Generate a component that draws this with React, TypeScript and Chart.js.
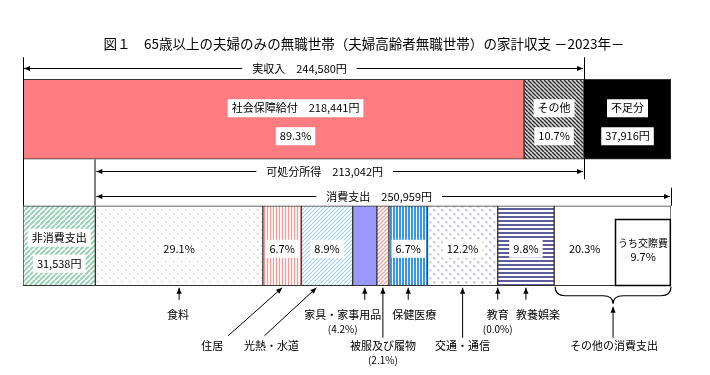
import React, { useEffect, useRef } from 'react';
import { Chart, registerables } from 'chart.js';

Chart.register(...registerables);

// ---------------- data ----------------
const TITLE = '図１　65歳以上の夫婦のみの無職世帯（夫婦高齢者無職世帯）の家計収支 －2023年－';
const rowLabels = ['収入', '支出'];

const incomeLabels = ['社会保障給付', 'その他', '不足分'];
const incomeValues = [218441, 26139, 37916]; // 円
const incomePct = [89.3, 10.7];

const actualIncome = 244580; // 実収入
const disposableIncome = 213042; // 可処分所得
const nonConsumption = 31538; // 非消費支出
const consumptionTotal = 250959; // 消費支出

const consumptionLabels = [
  '食料', '住居', '光熱・水道', '家具・家事用品', '被服及び履物',
  '保健医療', '交通・通信', '教育', '教養娯楽', 'その他の消費支出',
];
const consumptionPct = [29.1, 6.7, 8.9, 4.2, 2.1, 6.7, 12.2, 0.0, 9.8, 20.3];
const socialExpensePct = 9.7; // うち交際費

// ---------------- styles ----------------
const FONT = '"Noto Sans CJK JP", "Noto Sans", sans-serif';
const BAR = 80;

function mkPattern(size: number, bg: string, draw: (g: CanvasRenderingContext2D, s: number) => void) {
  const c = document.createElement('canvas');
  c.width = size;
  c.height = size;
  const g = c.getContext('2d')!;
  g.fillStyle = bg;
  g.fillRect(0, 0, size, size);
  draw(g, size);
  return g.createPattern(c, 'repeat')!;
}
function diag(color: string, lw: number, up: boolean) {
  return (g: CanvasRenderingContext2D, s: number) => {
    g.strokeStyle = color;
    g.lineWidth = lw;
    g.beginPath();
    for (let i = -s; i <= s; i += s) {
      if (up) {
        g.moveTo(i, s);
        g.lineTo(i + s, 0);
      } else {
        g.moveTo(i, 0);
        g.lineTo(i + s, s);
      }
    }
    g.stroke();
  };
}
function dots(color: string, d: number) {
  return (g: CanvasRenderingContext2D, s: number) => {
    g.fillStyle = color;
    g.fillRect(1, 1, d, d);
    g.fillRect(s / 2 + 1, s / 2 + 1, d, d);
  };
}
function vstripe(color: string, w: number) {
  return (g: CanvasRenderingContext2D) => {
    g.fillStyle = color;
    g.fillRect(0, 0, w, 100);
  };
}
function hstripe(color: string, w: number) {
  return (g: CanvasRenderingContext2D) => {
    g.fillStyle = color;
    g.fillRect(0, 0, 100, w);
  };
}

function drawArrow(ctx: CanvasRenderingContext2D, x1: number, y1: number, x2: number, y2: number) {
  ctx.beginPath();
  ctx.moveTo(x1, y1);
  ctx.lineTo(x2, y2);
  ctx.stroke();
  const a = Math.atan2(y2 - y1, x2 - x1);
  const L = 6, W = 2.6;
  ctx.beginPath();
  ctx.moveTo(x2, y2);
  ctx.lineTo(x2 - L * Math.cos(a) + W * Math.sin(a), y2 - L * Math.sin(a) - W * Math.cos(a));
  ctx.lineTo(x2 - L * Math.cos(a) - W * Math.sin(a), y2 - L * Math.sin(a) + W * Math.cos(a));
  ctx.closePath();
  ctx.fill();
}

function text(ctx: CanvasRenderingContext2D, s: string, x: number, y: number, box = false, size = 11) {
  ctx.font = `${size}px ${FONT}`;
  ctx.textAlign = 'center';
  ctx.textBaseline = 'middle';
  if (box) {
    const w = ctx.measureText(s).width;
    ctx.fillStyle = '#fff';
    ctx.fillRect(x - w / 2 - 4, y - 9, w + 8, 18);
  }
  ctx.fillStyle = '#000';
  ctx.fillText(s, x, y);
}

function fmt(n: number) {
  return n.toLocaleString('en-US');
}

export default function App() {
  const ref = useRef<HTMLCanvasElement>(null);

  useEffect(() => {
    const canvas = ref.current!;
    const consumptionValues = consumptionPct.map((p) => (p / 100) * consumptionTotal);
    const total = nonConsumption + consumptionTotal;

    const fills = {
      social: '#FF7C80',
      other: mkPattern(4, '#d8d8d8', diag('#303030', 1.4, false)),
      short: '#000000',
      nonCons: mkPattern(5, '#ffffff', diag('#99d1b4', 2, true)),
      cons: [
        mkPattern(8, '#ffffff', dots('#c4cfe4', 1.5)),
        mkPattern(3, '#fff4f4', vstripe('#f29a9a', 1)),
        mkPattern(4, '#ffffff', diag('#a9d3f0', 1.2, true)),
        '#9999FF',
        mkPattern(4, '#ffffff', diag('#f5a8a2', 1.4, true)),
        mkPattern(3, '#ffffff', vstripe('#3a98dc', 2)),
        mkPattern(8, '#ffffff', dots('#cdcdf2', 2.5)),
        '#ffffff',
        mkPattern(4, '#ffffff', hstripe('#5d5d9c', 2)),
        '#ffffff',
      ],
    };

    const ds: any[] = [];
    const base = { borderColor: '#333', borderWidth: 1, borderSkipped: false, barThickness: BAR, stack: 's' };
    incomeValues.forEach((v, i) => {
      ds.push({
        ...base,
        label: incomeLabels[i],
        data: [v, null],
        backgroundColor: [fills.social, fills.other, fills.short][i],
      });
    });
    ds.push({ ...base, label: '非消費支出', data: [null, nonConsumption], backgroundColor: fills.nonCons });
    consumptionValues.forEach((v, i) => {
      ds.push({ ...base, label: consumptionLabels[i], data: [null, v], backgroundColor: fills.cons[i] });
    });

    const overlay = {
      id: 'overlay',
      afterDatasetsDraw(chart: any) {
        const ctx: CanvasRenderingContext2D = chart.ctx;
        const xs = chart.scales.x;
        const ys = chart.scales.y;
        const X = (v: number) => xs.getPixelForValue(v);
        const topC = ys.getPixelForValue(0);
        const botC = ys.getPixelForValue(1);
        const H = BAR / 2;
        const topTop = topC - H, topBot = topC + H, botTop = botC - H, botBot = botC + H;
        ctx.save();

        // title, sized to span the reference width
        ctx.font = `13px ${FONT}`;
        const tw = ctx.measureText(TITLE).width;
        text(ctx, TITLE, 364, 44, false, Math.min(14.5, (13 * 522) / tw));

        ctx.strokeStyle = '#000';
        ctx.fillStyle = '#000';
        ctx.lineWidth = 1;

        // vertical guide lines
        const vline = (x: number, y1: number, y2: number, color = '#000', lw = 1) => {
          ctx.strokeStyle = color;
          ctx.lineWidth = lw;
          ctx.beginPath();
          ctx.moveTo(x, y1);
          ctx.lineTo(x, y2);
          ctx.stroke();
        };
        vline(Math.round(X(0)) + 0.5, topTop - 22, botTop);
        vline(Math.round(X(actualIncome)) + 0.5, topTop - 22, topBot + 20);
        vline(Math.round(X(nonConsumption)), topBot, botTop, '#808080', 2);
        vline(Math.round(X(total)) + 0.5, botTop - 18, botTop);
        ctx.strokeStyle = '#000';
        ctx.lineWidth = 1;

        // span arrows with labels
        const span = (x1: number, x2: number, y: number, s: string, dx: number) => {
          ctx.font = `11px ${FONT}`;
          const w = ctx.measureText(s).width;
          const cx = (x1 + x2) / 2 + dx;
          ctx.strokeStyle = '#000';
          ctx.fillStyle = '#000';
          drawArrow(ctx, cx - w / 2 - 10, y, x1 + 1, y);
          drawArrow(ctx, cx + w / 2 + 10, y, x2 - 1, y);
          text(ctx, s, cx, y);
        };
        span(X(0), X(actualIncome), Math.round(topTop - 11) + 0.5, `実収入　${fmt(actualIncome)}円`, -4);
        span(X(nonConsumption), X(actualIncome), Math.round(topBot + 12) + 0.5, `可処分所得　${fmt(disposableIncome)}円`, -15);
        span(X(nonConsumption), X(total), Math.round(botTop - 10) + 0.5, `消費支出　${fmt(consumptionTotal)}円`, -4);

        // income bar labels
        let acc = 0;
        const topCenters = incomeValues.map((v) => {
          const c = X(acc + v / 2);
          acc += v;
          return c;
        });
        text(ctx, `${incomeLabels[0]}　${fmt(incomeValues[0])}円`, topCenters[0] + 22, topC - 11, true);
        text(ctx, `${incomePct[0].toFixed(1)}%`, topCenters[0] + 22, topC + 17, true);
        text(ctx, incomeLabels[1], topCenters[1], topC - 11, true);
        text(ctx, `${incomePct[1].toFixed(1)}%`, topCenters[1], topC + 17, true);
        text(ctx, incomeLabels[2], topCenters[2], topC - 11, true);
        text(ctx, `${fmt(incomeValues[2])}円`, topCenters[2], topC + 17, true);

        // expenditure bar labels
        const ncC = X(nonConsumption / 2);
        text(ctx, '非消費支出', ncC, botC - 8, true);
        text(ctx, `${fmt(nonConsumption)}円`, ncC, botC + 18, true);

        const starts: number[] = [];
        let a2 = nonConsumption;
        consumptionValues.forEach((v) => {
          starts.push(a2);
          a2 += v;
        });
        const L = (i: number) => X(starts[i]);
        const R = (i: number) => X(starts[i] + consumptionValues[i]);
        const C = (i: number) => (L(i) + R(i)) / 2;

        // inner box うち交際費
        const innerL = X(total - (socialExpensePct / 100) * consumptionTotal);
        const innerR = X(total);
        ctx.fillStyle = '#fff';
        ctx.fillRect(innerL, botTop + 13, innerR - innerL, botBot - botTop - 13);
        ctx.strokeStyle = '#000';
        ctx.lineWidth = 1.5;
        ctx.strokeRect(Math.round(innerL) + 0.5, Math.round(botTop + 13) + 0.5, innerR - innerL - 1, botBot - botTop - 14);
        ctx.lineWidth = 1;
        text(ctx, 'うち交際費', (innerL + innerR) / 2, botC - 3, false, 10);
        text(ctx, `${socialExpensePct.toFixed(1)}%`, (innerL + innerR) / 2, botC + 11);

        consumptionPct.forEach((p, i) => {
          if (p <= 0 || i === 3 || i === 4) return;
          const cx = i === 9 ? (L(i) + innerL) / 2 : C(i);
          text(ctx, `${p.toFixed(1)}%`, cx, botC + 3, i !== 9);
        });

        // below-bar annotations
        ctx.strokeStyle = '#000';
        ctx.fillStyle = '#000';
        const tip = botBot + 2;
        const shortTail = botBot + 14;
        const longTail = botBot + 52;
        const row1 = botBot + 29, row1b = botBot + 43;
        const row2 = botBot + 60, row2b = botBot + 74;

        // 食料
        drawArrow(ctx, C(0), shortTail, C(0), tip);
        text(ctx, consumptionLabels[0], C(0) - 1, row1);
        // 住居
        drawArrow(ctx, C(1) - 54, botBot + 50, C(1), tip);
        text(ctx, consumptionLabels[1], C(1) - 70, row2);
        // 光熱・水道
        drawArrow(ctx, L(2) - 37, botBot + 50, L(2) + 15, tip);
        text(ctx, consumptionLabels[2], L(2) - 30, row2);
        // 家具・家事用品
        drawArrow(ctx, C(3), shortTail, C(3), tip);
        text(ctx, consumptionLabels[3], C(3) - 22, row1);
        text(ctx, `(${consumptionPct[3].toFixed(1)}%)`, C(3) - 22, row1b, false, 10);
        // 被服及び履物
        drawArrow(ctx, C(4), longTail, C(4), tip);
        text(ctx, consumptionLabels[4], C(4), row2);
        text(ctx, `(${consumptionPct[4].toFixed(1)}%)`, C(4), row2b, false, 10);
        // 保健医療
        drawArrow(ctx, C(5), shortTail, C(5), tip);
        text(ctx, consumptionLabels[5], C(5) + 6, row1);
        // 交通・通信
        drawArrow(ctx, C(6), longTail, C(6), tip);
        text(ctx, consumptionLabels[6], C(6), row2);
        // 教育
        drawArrow(ctx, C(7), shortTail, C(7), tip);
        text(ctx, consumptionLabels[7], C(7), row1);
        text(ctx, `(${consumptionPct[7].toFixed(1)}%)`, C(7), row1b, false, 10);
        // 教養娯楽
        drawArrow(ctx, C(8), shortTail, C(8), tip);
        text(ctx, consumptionLabels[8], C(8) + 12, row1);

        // brace for その他の消費支出
        const bl = L(9) + 1, br = R(9), bc = (bl + br) / 2;
        const bTop = botBot + 1, bMid = botBot + 10, bTip = botBot + 18, r = 10;
        ctx.lineWidth = 1.2;
        ctx.beginPath();
        ctx.moveTo(bl, bTop);
        ctx.quadraticCurveTo(bl, bMid, bl + r, bMid);
        ctx.lineTo(bc - r, bMid);
        ctx.quadraticCurveTo(bc, bMid, bc, bTip);
        ctx.quadraticCurveTo(bc, bMid, bc + r, bMid);
        ctx.lineTo(br - r, bMid);
        ctx.quadraticCurveTo(br, bMid, br, bTop);
        ctx.stroke();
        ctx.lineWidth = 1;
        drawArrow(ctx, bc, longTail, bc, bTip + 3);
        text(ctx, consumptionLabels[9], bc + 1, row2);

        ctx.restore();
      },
    };

    const chart = new Chart(canvas, {
      type: 'bar',
      data: { labels: rowLabels, datasets: ds },
      options: {
        indexAxis: 'y',
        animation: false,
        responsive: false,
        devicePixelRatio: 1,
        layout: { padding: { left: 23, right: 39, top: 56, bottom: 66 } },
        scales: {
          x: { stacked: true, min: 0, max: total, display: false },
          y: { stacked: true, display: false },
        },
        plugins: { legend: { display: false }, tooltip: { enabled: false }, title: { display: false } },
      },
      plugins: [overlay],
    });
    return () => chart.destroy();
  }, []);

  return (
    <div style={{ position: 'fixed', left: 0, top: 0, width: 710, height: 375, background: '#fff' }}>
      <canvas ref={ref} width={710} height={375} style={{ width: 710, height: 375, display: 'block' }} />
    </div>
  );
}
